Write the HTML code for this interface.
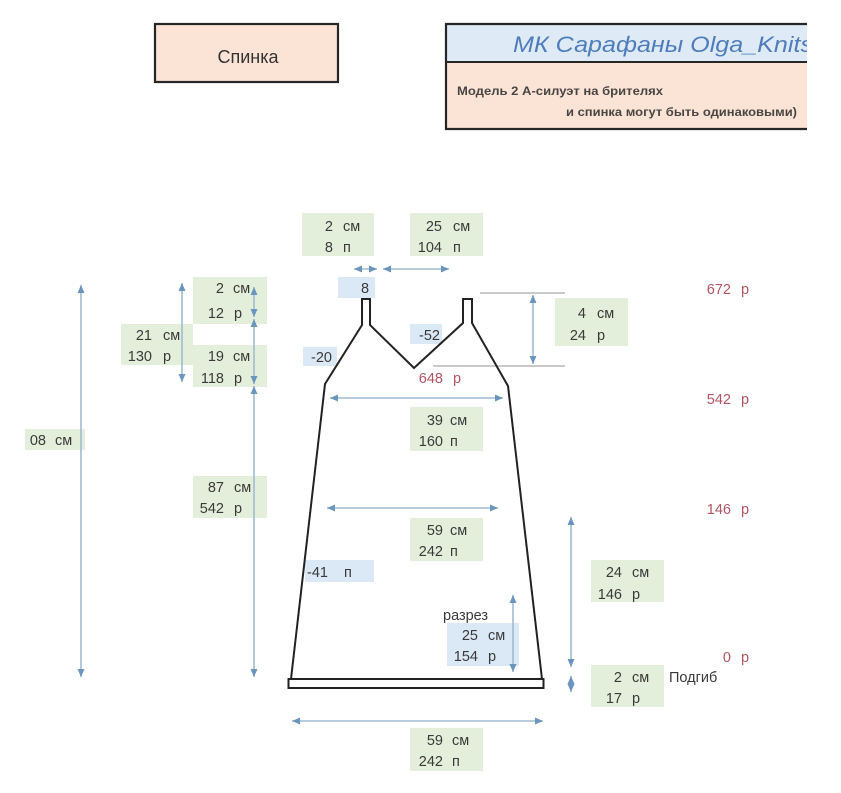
<!DOCTYPE html>
<html><head><meta charset="utf-8">
<style>
html,body{margin:0;padding:0;background:#fff;}
svg{display:block;}
text{font-family:"Liberation Sans","Noto Sans CJK SC",sans-serif;}
</style></head>
<body>
<svg width="841" height="793" viewBox="0 0 841 793" xmlns="http://www.w3.org/2000/svg">
<defs>
<marker id="a" viewBox="0 0 8 8" refX="8" refY="4" markerWidth="8" markerHeight="8" markerUnits="userSpaceOnUse" orient="auto-start-reverse">
<path d="M0,0.5 L8,4 L0,7.5 z" fill="#6b95bd"/>
</marker>
<clipPath id="hc"><rect x="440" y="15" width="367" height="120"/></clipPath>
</defs>

<!-- header: Спинка -->
<rect x="155" y="24" width="183" height="58" fill="#fbe4d6" stroke="#262626" stroke-width="2.2"/>
<text x="248" y="63" font-size="18" fill="#333" text-anchor="middle">Спинка</text>

<!-- header right -->
<g clip-path="url(#hc)">
<rect x="446" y="24" width="380" height="38" fill="#deebf7"/>
<rect x="446" y="62" width="380" height="67" fill="#fbe4d6"/>
<line x1="445" y1="24" x2="830" y2="24" stroke="#262626" stroke-width="2.2"/>
<line x1="445" y1="62" x2="830" y2="62" stroke="#262626" stroke-width="2"/>
<line x1="445" y1="129" x2="830" y2="129" stroke="#262626" stroke-width="2.2"/>
<line x1="446" y1="23" x2="446" y2="130" stroke="#262626" stroke-width="2.2"/>
<text x="513" y="52" font-size="22" font-style="italic" fill="#4f7cba" textLength="300" lengthAdjust="spacingAndGlyphs">МК Сарафаны Olga_Knits</text>
</g>
<text x="457" y="95" font-size="11.5" fill="#2a2a2a" font-weight="bold" textLength="206" lengthAdjust="spacingAndGlyphs" opacity="0.85">Модель 2 А-силуэт на брителях</text>
<text x="566" y="116" font-size="11.5" fill="#2a2a2a" font-weight="bold" textLength="231" lengthAdjust="spacingAndGlyphs" opacity="0.85">и спинка могут быть одинаковыми)</text>

<!-- green boxes -->
<g fill="#e3efda">
<rect x="302" y="213" width="72" height="43"/>
<rect x="410" y="213" width="73" height="43"/>
<rect x="193" y="277" width="74" height="47"/>
<rect x="121" y="324" width="72" height="41"/>
<rect x="193" y="345" width="74" height="42"/>
<rect x="555" y="298" width="73" height="48"/>
<rect x="410" y="407" width="73" height="44"/>
<rect x="25" y="429" width="60" height="21"/>
<rect x="193" y="476" width="74" height="42"/>
<rect x="410" y="518" width="73" height="43"/>
<rect x="591" y="560" width="73" height="42"/>
<rect x="591" y="665" width="73" height="42"/>
<rect x="410" y="728" width="73" height="43"/>
</g>
<!-- blue boxes -->
<g fill="#dbe8f5">
<rect x="338" y="277" width="37" height="21"/>
<rect x="303" y="347" width="34" height="19"/>
<rect x="410" y="324" width="32" height="20"/>
<rect x="305" y="560" width="69" height="22"/>
<rect x="447" y="623" width="72" height="43"/>
</g>

<!-- grey guide lines -->
<line x1="480" y1="293" x2="565" y2="293" stroke="#a9a9a9" stroke-width="1.3"/>
<line x1="433" y1="366" x2="565" y2="366" stroke="#a9a9a9" stroke-width="1.3"/>

<!-- arrows -->
<g stroke="#9fbbd2" stroke-width="1.6" fill="none">
<line x1="81" y1="285" x2="81" y2="677" marker-start="url(#a)" marker-end="url(#a)"/>
<line x1="182" y1="283" x2="182" y2="382" marker-start="url(#a)" marker-end="url(#a)"/>
<line x1="254" y1="287" x2="254" y2="317" marker-start="url(#a)" marker-end="url(#a)"/>
<line x1="254" y1="319" x2="254" y2="384" marker-start="url(#a)" marker-end="url(#a)"/>
<line x1="254" y1="386" x2="254" y2="677" marker-start="url(#a)" marker-end="url(#a)"/>
<line x1="533" y1="295" x2="533" y2="364" marker-start="url(#a)" marker-end="url(#a)"/>
<line x1="571" y1="517" x2="571" y2="667" marker-start="url(#a)" marker-end="url(#a)"/>
<line x1="571" y1="676" x2="571" y2="692" marker-start="url(#a)" marker-end="url(#a)"/>
<line x1="513" y1="595" x2="513" y2="672" marker-start="url(#a)" marker-end="url(#a)"/>
<line x1="354" y1="269" x2="377" y2="269" marker-start="url(#a)" marker-end="url(#a)"/>
<line x1="383" y1="269" x2="449" y2="269" marker-start="url(#a)" marker-end="url(#a)"/>
<line x1="330" y1="398" x2="503" y2="398" marker-start="url(#a)" marker-end="url(#a)"/>
<line x1="327" y1="508" x2="498" y2="508" marker-start="url(#a)" marker-end="url(#a)"/>
<line x1="292" y1="721" x2="543" y2="721" marker-start="url(#a)" marker-end="url(#a)"/>
</g>

<!-- garment outline -->
<path d="M291,679 L325,384 L362,325 L362,299 L370,299 L370,325 L414,368 L463,323 L463,299 L472,299 L472,323 L508,386 L542,679" fill="none" stroke="#222" stroke-width="2" stroke-linejoin="miter"/>
<rect x="288.5" y="679" width="255" height="9" fill="none" stroke="#222" stroke-width="2"/>

<!-- box texts -->
<g font-size="14.5" fill="#3a3a3a">
<text x="333" y="231" text-anchor="end">2</text><text x="343" y="231">см</text>
<text x="333" y="252" text-anchor="end">8</text><text x="343" y="252">п</text>
<text x="442" y="231" text-anchor="end">25</text><text x="453" y="231">см</text>
<text x="442" y="252" text-anchor="end">104</text><text x="453" y="252">п</text>
<text x="224" y="293" text-anchor="end">2</text><text x="233" y="293">см</text>
<text x="224" y="318" text-anchor="end">12</text><text x="234" y="318">р</text>
<text x="152" y="340" text-anchor="end">21</text><text x="163" y="340">см</text>
<text x="152" y="361" text-anchor="end">130</text><text x="163" y="361">р</text>
<text x="224" y="361" text-anchor="end">19</text><text x="233" y="361">см</text>
<text x="224" y="383" text-anchor="end">118</text><text x="234" y="383">р</text>
<text x="586" y="318" text-anchor="end">4</text><text x="597" y="318">см</text>
<text x="586" y="340" text-anchor="end">24</text><text x="597" y="340">р</text>
<text x="443" y="425" text-anchor="end">39</text><text x="450" y="425">см</text>
<text x="443" y="446" text-anchor="end">160</text><text x="450" y="446">п</text>
<text x="46" y="445" text-anchor="end">08</text><text x="55" y="445">см</text>
<text x="224" y="492" text-anchor="end">87</text><text x="234" y="492">см</text>
<text x="224" y="513" text-anchor="end">542</text><text x="234" y="513">р</text>
<text x="443" y="535" text-anchor="end">59</text><text x="450" y="535">см</text>
<text x="443" y="556" text-anchor="end">242</text><text x="450" y="556">п</text>
<text x="622" y="577" text-anchor="end">24</text><text x="632" y="577">см</text>
<text x="622" y="599" text-anchor="end">146</text><text x="632" y="599">р</text>
<text x="622" y="682" text-anchor="end">2</text><text x="632" y="682">см</text>
<text x="622" y="703" text-anchor="end">17</text><text x="632" y="703">р</text>
<text x="443" y="745" text-anchor="end">59</text><text x="452" y="745">см</text>
<text x="443" y="766" text-anchor="end">242</text><text x="452" y="766">п</text>
<text x="365" y="293" text-anchor="middle">8</text>
<text x="311" y="362">-20</text>
<text x="419" y="340">-52</text>
<text x="307" y="577">-41</text><text x="344" y="577">п</text>
<text x="478" y="640" text-anchor="end">25</text><text x="488" y="640">см</text>
<text x="478" y="661" text-anchor="end">154</text><text x="488" y="661">р</text>
<text x="443" y="620">разрез</text>
<text x="669" y="682">Подгиб</text>
</g>

<!-- red row labels -->
<g font-size="14.5" fill="#b25462">
<text x="731" y="294" text-anchor="end">672</text><text x="741" y="294">р</text>
<text x="731" y="404" text-anchor="end">542</text><text x="741" y="404">р</text>
<text x="731" y="514" text-anchor="end">146</text><text x="741" y="514">р</text>
<text x="731" y="662" text-anchor="end">0</text><text x="741" y="662">р</text>
<text x="443" y="383" text-anchor="end">648</text><text x="453" y="383">р</text>
</g>
</svg>
</body></html>
